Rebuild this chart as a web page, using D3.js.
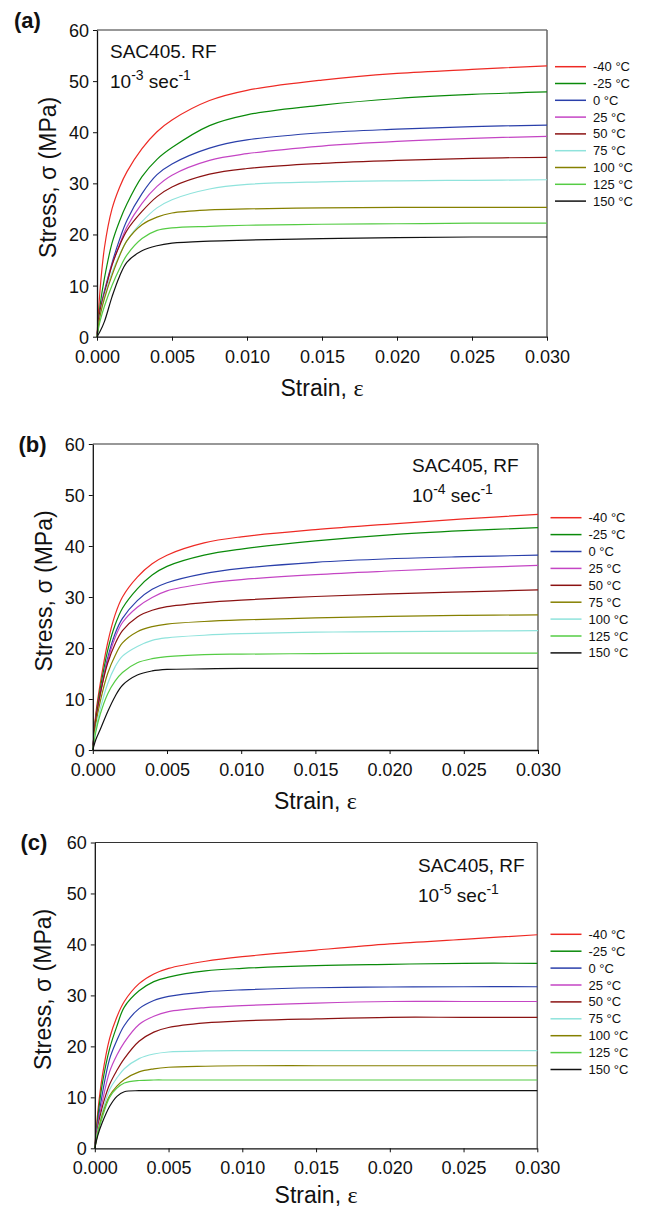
<!DOCTYPE html>
<html>
<head>
<meta charset="utf-8">
<script src="https://cdn.jsdelivr.net/npm/d3@7"></script>
<style>
  body { margin: 0; background: #fff; }
  svg { display: block; }
  text { font-family: "Liberation Sans", Arial, sans-serif; fill: #111; }
</style>
</head>
<body>
<svg width="646" height="1209"></svg>
<script>
// strain sample points shared by every curve
var strain = [0, 0.0002, 0.0005, 0.001, 0.0015, 0.002, 0.003, 0.004, 0.005, 0.0075, 0.01, 0.015, 0.02, 0.025, 0.03];
var temps = ["-40 °C", "-25 °C", "0 °C", "25 °C", "50 °C", "75 °C", "100 °C", "125 °C", "150 °C"];
var xTicks = [0, 0.005, 0.010, 0.015, 0.020, 0.025, 0.030];
var yTicks = [0, 10, 20, 30, 40, 50, 60];
var rates = ["-3", "-4", "-5"];
var notes = ["SAC405. RF", "SAC405, RF", "SAC405, RF"];
var labels = ["(a)", "(b)", "(c)"];

// (a) 10^-3 sec-1
var stressA = [
  [0, 9, 17.5, 25, 29.2, 32.3, 36.8, 40.1, 42.4, 46.2, 48.2, 50.2, 51.5, 52.3, 53.0],
  [0, 6, 11.5, 18.3, 22.6, 26, 31.3, 34.7, 37, 41.3, 43.4, 45.3, 46.6, 47.4, 47.9],
  [0, 5, 9, 14.4, 19, 22.8, 28, 31.7, 33.8, 36.9, 38.5, 39.9, 40.6, 41.1, 41.4],
  [0, 5, 8.5, 14, 18, 21.5, 26.1, 29.4, 31.6, 34.5, 35.8, 37.3, 38.2, 38.8, 39.2],
  [0, 5, 8.5, 14, 17.8, 20.8, 24.5, 27.4, 29.3, 31.8, 32.9, 33.9, 34.5, 34.9, 35.1],
  [0, 4, 8, 12.5, 16, 18.8, 22.5, 25.2, 26.8, 28.9, 29.8, 30.3, 30.5, 30.6, 30.7],
  [0, 4, 7.5, 12, 15.8, 18.8, 21.9, 23.4, 24.2, 24.8, 25.0, 25.2, 25.3, 25.3, 25.3],
  [0, 3, 6, 10, 13.3, 16.0, 19.2, 20.8, 21.3, 21.6, 21.8, 22.0, 22.1, 22.2, 22.2],
  [0, 1, 3, 7.8, 11.8, 14.6, 16.8, 17.8, 18.3, 18.7, 18.9, 19.2, 19.4, 19.5, 19.5]
];
// (b) 10^-4 sec-1
var stressB = [
  [0, 7, 13, 21, 26.5, 30, 33.9, 36.5, 38.2, 40.6, 41.8, 43.2, 44.3, 45.3, 46.2],
  [0, 6.5, 12, 19.5, 24.5, 27.8, 31.6, 34.3, 36, 38.2, 39.4, 41.0, 42.2, 43.0, 43.6],
  [0, 6, 11, 18, 22.8, 25.8, 29.3, 31.5, 32.8, 34.6, 35.6, 36.8, 37.5, 37.9, 38.2],
  [0, 6, 11, 17.5, 22, 25, 28, 29.9, 31.2, 32.6, 33.4, 34.4, 35.1, 35.7, 36.2],
  [0, 6, 11, 17, 20.8, 23.4, 26.1, 27.4, 28.1, 28.9, 29.4, 30.1, 30.6, 31.0, 31.4],
  [0, 5, 9.5, 15, 18.5, 21, 23.2, 24.2, 24.7, 25.2, 25.5, 25.9, 26.2, 26.4, 26.5],
  [0, 4, 8, 13, 16.3, 18.4, 20.3, 21.5, 22, 22.5, 22.8, 23.1, 23.2, 23.3, 23.4],
  [0, 3.5, 7, 11, 13.5, 15.2, 17.1, 17.9, 18.3, 18.7, 18.8, 18.9, 19.0, 19.0, 19.0],
  [0, 2, 4, 7.5, 10.5, 12.7, 14.7, 15.5, 15.8, 15.9, 16.0, 16.0, 16.0, 16.0, 16.0]
];
// (c) 10^-5 sec-1
var stressC = [
  [0, 7, 14, 21.5, 25.8, 28.8, 32.3, 34.2, 35.3, 36.7, 37.6, 38.9, 40.1, 41.0, 41.9],
  [0, 6, 12.5, 19.5, 24, 27.7, 30.9, 32.7, 33.6, 34.8, 35.3, 35.85, 36.1, 36.3, 36.3],
  [0, 5, 10.5, 17.5, 21.2, 24.1, 27.4, 29, 29.8, 30.7, 31.1, 31.5, 31.65, 31.7, 31.7],
  [0, 4.5, 9, 15, 18.3, 20.8, 24.3, 25.9, 26.8, 27.6, 28.0, 28.5, 28.8, 28.8, 28.8],
  [0, 4, 8, 12.5, 15.3, 17.6, 21.0, 22.8, 23.7, 24.6, 25.0, 25.4, 25.7, 25.7, 25.7],
  [0, 3.5, 7, 11.5, 13.8, 15.6, 17.6, 18.5, 18.9, 19.1, 19.15, 19.15, 19.15, 19.15, 19.15],
  [0, 3, 6.5, 10.3, 12.2, 13.5, 15.0, 15.6, 15.9, 16.1, 16.2, 16.2, 16.2, 16.2, 16.2],
  [0, 3, 6, 10, 11.8, 12.8, 13.3, 13.4, 13.4, 13.4, 13.4, 13.4, 13.4, 13.4, 13.4],
  [0, 2.5, 5, 8.2, 10.2, 11.1, 11.3, 11.3, 11.3, 11.3, 11.3, 11.3, 11.3, 11.3, 11.3]
];

var colorsAC = ["#ee2a24", "#0a8a0a", "#2a3faa", "#c445c4", "#8b1212", "#8fe3dc", "#858000", "#55cc44", "#111111"];
var colorsB  = ["#ee2a24", "#0a8a0a", "#2a3faa", "#c445c4", "#8b1212", "#858000", "#8fe3dc", "#55cc44", "#111111"];

var svg = d3.select("svg");

function drawPanel(p, data, colors) {
  var g = svg.append("g");
  var x = d3.scaleLinear().domain([0, 0.03]).range([p.left, p.right]);
  var y = d3.scaleLinear().domain([0, 60]).range([p.bottom, p.top]);

  // frame
  g.append("line").attr("x1", p.left).attr("x2", p.right).attr("y1", p.top).attr("y2", p.top)
    .attr("stroke", "#333").attr("stroke-width", 1.2);
  g.append("line").attr("x1", p.right).attr("x2", p.right).attr("y1", p.top).attr("y2", p.bottom)
    .attr("stroke", "#666").attr("stroke-width", 1.5);

  var line = d3.line()
    .x(function(d, i) { return x(strain[i]); })
    .y(function(d) { return y(d); })
    .curve(d3.curveCatmullRom.alpha(0.5));

  data.forEach(function(s, k) {
    g.append("path").datum(s)
      .attr("d", line)
      .attr("fill", "none")
      .attr("stroke", colors[k])
      .attr("stroke-width", 1.2);
  });

  var xa = g.append("g").attr("transform", "translate(0," + p.bottom + ")")
    .call(d3.axisBottom(x).tickValues(xTicks).tickFormat(d3.format(".3f")).tickSizeInner(4).tickSizeOuter(0));
  var ya = g.append("g").attr("transform", "translate(" + p.left + ",0)")
    .call(d3.axisLeft(y).tickValues(yTicks).tickFormat(d3.format("d")).tickSizeInner(4).tickSizeOuter(0));
  [xa, ya].forEach(function(a) {
    a.select(".domain").attr("stroke", "#111").attr("stroke-width", 1.3);
    a.selectAll(".tick line").attr("stroke", "#111");
    a.selectAll(".tick text").attr("font-size", 18).attr("font-family", "Liberation Sans, Arial, sans-serif").attr("fill", "#111");
  });
  xa.selectAll(".tick text").attr("dy", null).attr("y", 26);
  ya.selectAll(".tick text").attr("x", -8).attr("dy", "0.36em");

  // axis titles
  var xt = g.append("text").attr("x", (p.left + p.right) / 2).attr("y", p.bottom + p.xtDy)
    .attr("text-anchor", "middle").attr("font-size", 23);
  xt.append("tspan").text("Strain, ");
  xt.append("tspan").attr("font-family", "Liberation Serif, Times New Roman, serif").attr("font-size", 24).text("ε");

  g.append("text")
    .attr("transform", "translate(" + p.ytx + "," + ((p.top + p.bottom) / 2 - 6) + ") rotate(-90)")
    .attr("text-anchor", "middle").attr("font-size", 23)
    .text("Stress, σ (MPa)");

  // panel label
  g.append("text").attr("x", p.labX).attr("y", p.labY)
    .attr("font-family", "Liberation Serif, Times New Roman, serif")
    .attr("font-weight", "bold").attr("font-size", 22).text(labels[p.idx]);

  // annotation
  g.append("text").attr("x", p.noteX).attr("y", p.noteY).attr("font-size", 19).text(notes[p.idx]);
  var r = g.append("text").attr("x", p.noteX).attr("y", p.noteY + 30).attr("font-size", 19);
  r.append("tspan").text("10");
  r.append("tspan").attr("dy", -8).attr("font-size", 14).text(rates[p.idx]);
  r.append("tspan").attr("dy", 8).text(" sec");
  r.append("tspan").attr("dy", -8).attr("font-size", 14).text("-1");

  // legend
  temps.forEach(function(t, k) {
    var ly = p.legY + k * p.legStep;
    g.append("line").attr("x1", p.legX).attr("x2", p.legX + 31).attr("y1", ly).attr("y2", ly)
      .attr("stroke", colors[k]).attr("stroke-width", 1.5);
    g.append("text").attr("x", p.legX + 38).attr("y", ly + 4.5).attr("font-size", 13).text(t);
  });
}

drawPanel({idx: 0, left: 97, right: 547, top: 30, bottom: 336.7, ytx: 56, xtDy: 59,
  labX: 14, labY: 28, noteX: 110, noteY: 58, legX: 555, legY: 66.7, legStep: 16.8}, stressA, colorsAC);
drawPanel({idx: 1, left: 92.8, right: 538, top: 444, bottom: 750, ytx: 52, xtDy: 59,
  labX: 18.5, labY: 452, noteX: 412, noteY: 471.7, legX: 550.5, legY: 517.7, legStep: 16.9}, stressB, colorsB);
drawPanel({idx: 2, left: 94.8, right: 537.3, top: 842.5, bottom: 1148.3, ytx: 51, xtDy: 55,
  labX: 20.5, labY: 850, noteX: 418, noteY: 871.7, legX: 550.5, legY: 934.3, legStep: 16.9}, stressC, colorsAC);
</script>
</body>
</html>
